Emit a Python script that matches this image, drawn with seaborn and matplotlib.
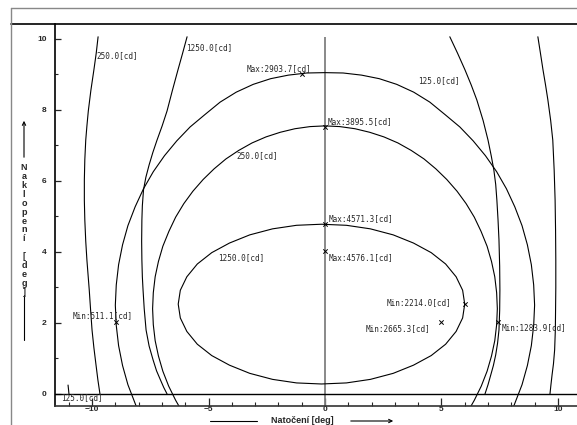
import matplotlib
matplotlib.use("Agg")
import matplotlib.pyplot as plt
import seaborn as sns
import pandas as pd
from matplotlib.lines import Line2D

# ---------------------------------------------------------------
# DATA
# ---------------------------------------------------------------

# inner closed contour, 1250 cd
inner_1250_x = [6.00, 5.91, 5.63, 5.18, 4.56, 3.80, 2.93, 1.95, 0.92, -0.15,
                -1.22, -2.25, -3.23, -4.10, -4.86, -5.48, -5.93, -6.21, -6.30,
                -6.21, -5.93, -5.48, -4.86, -4.10, -3.23, -2.25, -1.22, -0.15,
                0.92, 1.95, 2.93, 3.80, 4.56, 5.18, 5.63, 5.91, 6.00]
inner_1250_y = [2.53, 2.92, 3.30, 3.66, 3.98, 4.25, 4.48, 4.65, 4.75, 4.78,
                4.75, 4.65, 4.48, 4.25, 3.98, 3.66, 3.30, 2.92, 2.53,
                2.14, 1.76, 1.40, 1.08, 0.81, 0.58, 0.41, 0.31, 0.28,
                0.31, 0.41, 0.58, 0.81, 1.08, 1.40, 1.76, 2.14, 2.53]

# middle contour, 250 cd
mid_250_x = [-6.21, -6.41, -6.71, -6.96, -7.15, -7.29, -7.37, -7.40, -7.37, -7.29, -7.15,
             -6.96, -6.70, -6.41, -6.06, -5.67, -5.23, -4.76, -4.25, -3.70, -3.13, -2.53,
             -1.92, -1.29, -0.64, 0.0,
             0.64, 1.29, 1.92, 2.53, 3.13, 3.70, 4.25, 4.76, 5.23, 5.67, 6.06, 6.41,
             6.70, 6.96, 7.15, 7.29, 7.37, 7.40, 7.37, 7.29, 7.15, 6.96, 6.71, 6.41, 6.21]
mid_250_y = [-0.41, -0.18, 0.22, 0.64, 1.07, 1.50, 1.95, 2.40, 2.85, 3.30, 3.73,
             4.16, 4.58, 4.98, 5.36, 5.71, 6.04, 6.34, 6.62, 6.86, 7.07, 7.24,
             7.37, 7.47, 7.53, 7.55,
             7.53, 7.47, 7.37, 7.24, 7.07, 6.86, 6.62, 6.34, 6.04, 5.71, 5.36, 4.98,
             4.58, 4.16, 3.73, 3.30, 2.85, 2.40, 1.95, 1.50, 1.07, 0.64, 0.22, -0.18, -0.41]

# outer contour, 125 cd
outer_125_x = [-8.06, -8.46, -8.69, -8.86, -8.96, -9.00, -8.96, -8.86, -8.69, -8.46, -8.15,
               -7.79, -7.37, -6.89, -6.36, -5.79, -5.17, -4.50, -3.81, -3.08, -2.33,
               -1.57, -0.78, 0.0,
               0.78, 1.57, 2.33, 3.08, 3.81, 4.50, 5.17, 5.79, 6.36, 6.89, 7.37, 7.79,
               8.15, 8.46, 8.69, 8.86, 8.96, 9.00, 8.96, 8.86, 8.69, 8.46, 8.06]
outer_125_y = [-0.42, 0.26, 0.80, 1.36, 1.93, 2.50, 3.07, 3.64, 4.20, 4.74, 5.27,
               5.78, 6.26, 6.71, 7.13, 7.52, 7.86, 8.22, 8.50, 8.72, 8.88,
               8.98, 9.04, 9.05,
               9.04, 8.98, 8.88, 8.72, 8.50, 8.22, 7.86, 7.52, 7.13, 6.71, 6.26, 5.78,
               5.27, 4.74, 4.20, 3.64, 3.07, 2.50, 1.93, 1.36, 0.80, 0.26, -0.42]

# left / right side contours
left_250_x = [-9.74, -9.82, -9.92, -10.05, -10.16, -10.22, -10.27, -10.31, -10.33, -10.33,
              -10.31, -10.27, -10.22, -10.17, -10.12, -10.06, -10.00, -9.92, -9.83, -9.75, -9.66]
left_250_y = [10.06, 9.60, 9.13, 8.55, 7.97, 7.55, 7.15, 6.60, 6.03, 5.45,
              4.90, 4.30, 3.77, 3.35, 2.93, 2.35, 1.80, 1.30, 0.82, 0.40, 0.0]

left_1250_x = [-5.92, -6.11, -6.31, -6.55, -6.78, -6.99, -7.21, -7.39, -7.55, -7.69, -7.79,
               -7.84, -7.86, -7.87, -7.86, -7.84, -7.81, -7.76, -7.68, -7.55, -7.38, -7.23,
               -7.06, -6.92, -6.78]
left_1250_y = [10.06, 9.60, 9.13, 8.55, 7.97, 7.55, 7.15, 6.80, 6.45, 6.10, 5.75,
               5.30, 4.90, 4.30, 3.77, 3.30, 2.93, 2.40, 1.80, 1.35, 0.96, 0.65,
               0.39, 0.18, 0.0]

right_1250_x = [5.36, 5.69, 6.01, 6.28, 6.52, 6.79, 7.00, 7.14, 7.25, 7.33, 7.38, 7.43,
                7.47, 7.50, 7.51, 7.50, 7.47, 7.41, 7.33, 7.23, 7.12, 7.00, 6.87]
right_1250_y = [10.06, 9.60, 9.13, 8.70, 8.28, 7.70, 7.15, 6.70, 6.31, 5.90, 5.46, 4.90,
                4.34, 3.60, 2.93, 2.35, 1.80, 1.43, 1.10, 0.80, 0.54, 0.26, 0.0]

right_250_x = [9.14, 9.25, 9.36, 9.47, 9.57, 9.69, 9.78, 9.84, 9.88, 9.90, 9.91, 9.91,
               9.90, 9.89, 9.86, 9.81, 9.75, 9.70, 9.66]
right_250_y = [10.06, 9.60, 9.13, 8.70, 8.28, 7.70, 7.15, 6.30, 5.46, 4.60, 3.77, 3.00,
               2.37, 1.80, 1.24, 0.85, 0.54, 0.25, 0.0]

corner_125_x = [-11.03, -10.99]
corner_125_y = [0.25, 0.0]

# max / min points
point_x = [-1.0, 0.0, 0.0, 0.0, 6.01, 4.98, 7.42, -8.97]
point_y = [9.01, 7.53, 4.79, 4.03, 2.54, 2.03, 2.03, 2.03]

# text labels
label_x = [-9.79, -5.97, -3.35, 3.99, 0.13, -3.78, 0.17, -4.59, 0.17, 2.66, 1.76, 7.60, -10.82, -11.33]
label_y = [9.52, 9.75, 9.15, 8.82, 7.66, 6.70, 4.93, 3.83, 3.83, 2.56, 1.83, 1.86, 2.20, -0.11]
label_txt = ['250.0[cd]', '1250.0[cd]', 'Max:2903.7[cd]', '125.0[cd]', 'Max:3895.5[cd]',
             '250.0[cd]', 'Max:4571.3[cd]', '1250.0[cd]', 'Max:4576.1[cd]', 'Min:2214.0[cd]',
             'Min:2665.3[cd]', 'Min:1283.9[cd]', 'Min:511.1[cd]', '125.0[cd]']

x_major = [-10, -5, 0, 5, 10]
y_major = [0, 2, 4, 6, 8, 10]
x_limits = (-11.59, 10.82)
y_limits = (-0.34, 10.42)
axis_top = 10.05

# ---------------------------------------------------------------
# BUILD LONG TABLE FOR SEABORN
# ---------------------------------------------------------------
curves = {
    'inner_1250': (inner_1250_x, inner_1250_y),
    'mid_250': (mid_250_x, mid_250_y),
    'outer_125': (outer_125_x, outer_125_y),
    'left_250': (left_250_x, left_250_y),
    'left_1250': (left_1250_x, left_1250_y),
    'right_1250': (right_1250_x, right_1250_y),
    'right_250': (right_250_x, right_250_y),
    'corner_125': (corner_125_x, corner_125_y),
}
rows = []
for name, (xs, ys) in curves.items():
    for xv, yv in zip(xs, ys):
        rows.append({'curve': name, 'x': xv, 'y': yv})
df = pd.DataFrame(rows)

# ---------------------------------------------------------------
# PLOT
# ---------------------------------------------------------------
sns.set_style('white')
plt.rcParams['font.family'] = ['Liberation Sans', 'DejaVu Sans']

fig = plt.figure(figsize=(5.77, 4.25), dpi=100)
W, H = 577.0, 425.0
ax = fig.add_axes([55 / W, 1 - 406 / H, 1 - 55 / W, (406 - 24) / H])

# reference lines
ax.vlines(0, y_limits[0], axis_top, color='#808080', lw=1.3, zorder=1)
ax.axhline(0, color='black', lw=1.0, zorder=1)

sns.lineplot(data=df, x='x', y='y', units='curve', estimator=None, sort=False,
             color='black', lw=0.8, ax=ax, legend=False, zorder=2)

sns.scatterplot(x=point_x, y=point_y, marker='x', color='black', s=10,
                linewidth=0.7, ax=ax, zorder=3)

for xv, yv, t in zip(label_x, label_y, label_txt):
    ax.text(xv, yv, t, fontsize=5.5, family='DejaVu Sans Mono', ha='left', va='center')

ax.set_xlim(*x_limits)
ax.set_ylim(*y_limits)
ax.set_xlabel('')
ax.set_ylabel('')

ax.set_xticks(x_major)
ax.set_xticks(range(-11, 11), minor=True)
ax.set_yticks(y_major)
ax.set_yticks(range(0, 11), minor=True)
ax.set_xticklabels(['\u221210', '\u22125', '0', '5', '10'])

ax.tick_params(axis='x', which='major', direction='in', length=6, width=0.9, pad=0.3,
               labelsize=6, bottom=True)
ax.tick_params(axis='x', which='minor', direction='in', length=3, width=0.8, bottom=True)
ax.tick_params(axis='y', which='major', direction='in', length=4, width=0.9, pad=6,
               labelsize=6, left=True)
ax.tick_params(axis='y', which='minor', direction='in', length=2, width=0.8, left=True)
for lab in ax.get_xticklabels() + ax.get_yticklabels():
    lab.set_fontweight('bold')

for side in ['top', 'right']:
    ax.spines[side].set_visible(False)
ax.spines['left'].set_color('black')
ax.spines['left'].set_linewidth(1.2)
ax.spines['bottom'].set_color('#333333')
ax.spines['bottom'].set_linewidth(1.2)

# outer frame
fig.add_artist(Line2D([11 / W, 1], [1 - 8 / H, 1 - 8 / H], color='#888888', lw=1.0))
fig.add_artist(Line2D([11 / W, 1], [1 - 24 / H, 1 - 24 / H], color='black', lw=1.2))
fig.add_artist(Line2D([11 / W, 11 / W], [1 - 8 / H, 0], color='#888888', lw=1.0))

# y label, stacked letters with arrow
fig.text(24 / W, 1 - 230 / H, '\n'.join('Naklopení [deg]'), ha='center', va='center',
         fontsize=6.5, fontweight='bold', linespacing=0.99)
ax.annotate('', xy=(24 / W, 1 - 118 / H), xytext=(24 / W, 1 - 160 / H),
            xycoords='figure fraction', textcoords='figure fraction',
            arrowprops=dict(arrowstyle='->', lw=0.8, color='black', mutation_scale=6))
fig.add_artist(Line2D([24 / W, 24 / W], [1 - 295 / H, 1 - 340 / H], color='black', lw=0.8))

# x label with arrows
fig.text(302 / W, 0.0, 'Natočení [deg]', ha='center', va='bottom',
         fontsize=6.5, fontweight='bold')
fig.add_artist(Line2D([210 / W, 257 / W], [1 - 421 / H, 1 - 421 / H], color='black', lw=0.8))
ax.annotate('', xy=(396 / W, 1 - 421 / H), xytext=(348 / W, 1 - 421 / H),
            xycoords='figure fraction', textcoords='figure fraction',
            arrowprops=dict(arrowstyle='->', lw=0.8, color='black', mutation_scale=6))

fig.savefig('out.png', dpi=100)
